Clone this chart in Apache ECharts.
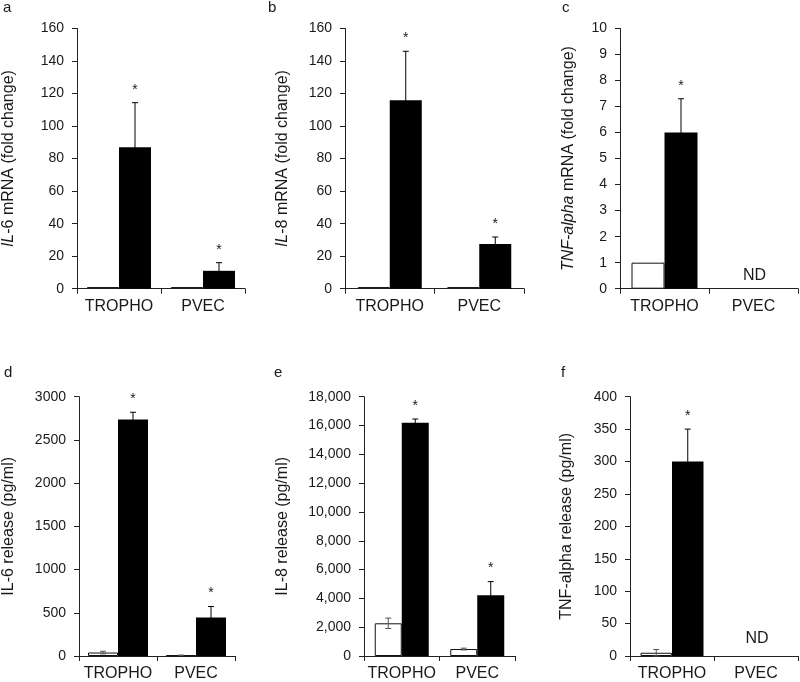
<!DOCTYPE html>
<html><head><meta charset="utf-8">
<script src="https://cdn.jsdelivr.net/npm/echarts@6/dist/echarts.min.js"></script>
<style>html,body{margin:0;padding:0;background:#fff}#c{width:800px;height:682px}</style>
</head><body><div id="c"></div>
<script>
// ---------- DATA ----------
const categories = ['TROPHO', 'PVEC'];

// a: IL-6 mRNA (fold change)
const aCtrl = [1, 1];        const aCtrlErr = [0, 0];
const aTreat = [87, 11];     const aTreatErr = [27.4, 5];
const aStar = [1, 1];
// b: IL-8 mRNA (fold change)
const bCtrl = [1, 1];        const bCtrlErr = [0, 0];
const bTreat = [115.9, 27.5]; const bTreatErr = [30.1, 4.3];
const bStar = [1, 1];
// c: TNF-alpha mRNA (fold change), PVEC not detected
const cCtrl = [1, null];     const cCtrlErr = [0, null];
const cTreat = [6.0, null];  const cTreatErr = [1.3, null];
const cStar = [1, 0];
// d: IL-6 release (pg/ml)
const dCtrl = [40, 8];       const dCtrlErr = [15, 3];
const dTreat = [2735, 446];  const dTreatErr = [85, 127];
const dStar = [1, 1];
// e: IL-8 release (pg/ml)
const eCtrl = [2270, 484];   const eCtrlErr = [360, 60];
const eTreat = [16200, 4220]; const eTreatErr = [250, 945];
const eStar = [1, 1];
// f: TNF-alpha release (pg/ml), PVEC not detected
const fCtrl = [5, null];     const fCtrlErr = [5, null];
const fTreat = [300, null];  const fTreatErr = [50, null];
const fStar = [1, 0];

const yTicksA = {min: 0, max: 160, interval: 20};
const yTicksB = {min: 0, max: 160, interval: 20};
const yTicksC = {min: 0, max: 10, interval: 1};
const yTicksD = {min: 0, max: 3000, interval: 500};
const yTicksE = {min: 0, max: 18000, interval: 2000};
const yTicksF = {min: 0, max: 400, interval: 50};

// ---------- LAYOUT / STYLE ----------
const FONT = 'Liberation Sans, Arial, sans-serif';
const TXT = '#1a1a1a';
const LINE = '#222';
const panels = [
  {id:'a', ctrl:aCtrl, ctrlErr:aCtrlErr, treat:aTreat, treatErr:aTreatErr, star:aStar, ticks:yTicksA,
   name:'{i|IL}-6 mRNA (fold change)', grid:{left:76, top:28.5, width:169, height:260.2}, bw:32, nameGap:60,
   label:{x:3, y:12}},
  {id:'b', ctrl:bCtrl, ctrlErr:bCtrlErr, treat:bTreat, treatErr:bTreatErr, star:bStar, ticks:yTicksB,
   name:'{i|IL}-8 mRNA (fold change)', grid:{left:345, top:28.5, width:179, height:260.2}, bw:32, nameGap:54,
   label:{x:268, y:12}},
  {id:'c', ctrl:cCtrl, ctrlErr:cCtrlErr, treat:cTreat, treatErr:cTreatErr, star:cStar, ticks:yTicksC,
   name:'{i|TNF-alpha} mRNA (fold change)', grid:{left:620, top:28.5, width:178, height:260.2}, bw:33, nameGap:43,
   label:{x:562, y:12}, nd:true, ndOff:13},
  {id:'d', ctrl:dCtrl, ctrlErr:dCtrlErr, treat:dTreat, treatErr:dTreatErr, star:dStar, ticks:yTicksD,
   name:'IL-6 release (pg/ml)', grid:{left:76, top:396.7, width:159, height:260.3}, bw:30, nameGap:62,
   label:{x:4, y:377}},
  {id:'e', ctrl:eCtrl, ctrlErr:eCtrlErr, treat:eTreat, treatErr:eTreatErr, star:eStar, ticks:yTicksE,
   name:'IL-8 release (pg/ml)', grid:{left:364, top:396.7, width:151, height:260.3}, bw:27, nameGap:73,
   label:{x:274, y:377}, thousands:true},
  {id:'f', ctrl:fCtrl, ctrlErr:fCtrlErr, treat:fTreat, treatErr:fTreatErr, star:fStar, ticks:yTicksF,
   name:'TNF-alpha release (pg/ml)', grid:{left:630, top:396.7, width:168, height:261}, bw:31.5, nameGap:55,
   label:{x:561, y:377}, nd:true, ndOff:17}
];

function errRender(bw, isTreat, color) {
  return function (params, api) {
    const cat = api.value(0), v = api.value(1), e = api.value(2), star = api.value(3);
    if (v == null || isNaN(v)) return;
    const c = api.coord([cat, v]);
    const x = c[0] + (isTreat ? bw / 2 : -bw / 2);
    const yT = api.coord([cat, v + e])[1];
    const yB = api.coord([cat, Math.max(0, v - e)])[1];
    const ch = [];
    const ls = {stroke: color, lineWidth: 1};
    if (e > 0) {
      ch.push({type:'line', shape:{x1:x, y1:yT, x2:x, y2:yB}, style:ls});
      ch.push({type:'line', shape:{x1:x-3, y1:yT, x2:x+3, y2:yT}, style:ls});
      ch.push({type:'line', shape:{x1:x-3, y1:yB, x2:x+3, y2:yB}, style:ls});
    }
    if (star) {
      ch.push({type:'text', style:{text:'*', x:x, y:yT - 13, align:'center', verticalAlign:'middle',
        font:'14px ' + FONT, fill:TXT}});
    }
    return {type:'group', children:ch};
  };
}

const grids = [], xAxes = [], yAxes = [], series = [], graphics = [];
panels.forEach((p, i) => {
  grids.push(Object.assign({}, p.grid));
  xAxes.push({
    type:'category', gridIndex:i, data:categories,
    axisLine:{show:true, lineStyle:{color:LINE, width:1}},
    axisTick:{show:true, length:5, lineStyle:{color:LINE}},
    axisLabel:{fontSize:16, color:TXT, fontFamily:FONT, margin:10, interval:0, hideOverlap:false}
  });
  yAxes.push({
    type:'value', gridIndex:i, min:p.ticks.min, max:p.ticks.max, interval:p.ticks.interval,
    axisLine:{show:true, lineStyle:{color:LINE, width:1}},
    axisTick:{show:true, length:5, lineStyle:{color:LINE}},
    splitLine:{show:false},
    axisLabel:{fontSize:14, color:TXT, fontFamily:FONT, margin:13,
      formatter: p.thousands ? (v => v.toLocaleString('en-US')) : (v => String(v))},
    name:p.name, nameLocation:'middle', nameGap:p.nameGap,
    nameTextStyle:{fontSize:16, color:TXT, fontFamily:FONT,
      rich:{i:{fontStyle:'italic', fontSize:16, color:TXT, fontFamily:FONT}}}
  });
  series.push({
    type:'bar', xAxisIndex:i, yAxisIndex:i, barWidth:p.bw, barGap:'0%',
    data:p.ctrl, itemStyle:{color:'#fff', borderColor:'#111', borderWidth:1}, silent:true
  });
  series.push({
    type:'bar', xAxisIndex:i, yAxisIndex:i, barWidth:p.bw, barGap:'0%',
    data:p.treat, itemStyle:{color:'#000'}, silent:true
  });
  series.push({
    type:'custom', xAxisIndex:i, yAxisIndex:i, renderItem:errRender(p.bw, false, '#555'),
    data:p.ctrl.map((v, k) => [k, v == null ? NaN : v, p.ctrlErr[k] || 0, 0]), z:5, silent:true
  });
  series.push({
    type:'custom', xAxisIndex:i, yAxisIndex:i, renderItem:errRender(p.bw, true, '#000'),
    data:p.treat.map((v, k) => [k, v == null ? NaN : v, p.treatErr[k] || 0, p.star[k]]), z:5, silent:true
  });
  if (p.nd) {
    const ndIdx = p.treat.map((v, k) => v == null ? k : -1).filter(k => k >= 0);
    series.push({
      type:'custom', xAxisIndex:i, yAxisIndex:i, silent:true,
      renderItem:(params, api) => {
        const c = api.coord([api.value(0), 0]);
        return {type:'text', style:{text:'ND', x:c[0] + 1, y:c[1] - p.ndOff, align:'center',
          verticalAlign:'middle', font:'16px ' + FONT, fill:TXT}};
      },
      data:ndIdx.map(k => [k])
    });
  }
  graphics.push({type:'text', left:p.label.x, top:p.label.y - 12,
    style:{text:p.id, font:'15px ' + FONT, fill:TXT}});
});

const chart = echarts.init(document.getElementById('c'), null, {renderer:'canvas'});
chart.setOption({
  animation:false, backgroundColor:'#fff',
  grid:grids, xAxis:xAxes, yAxis:yAxes, series:series, graphic:graphics
});
</script></body></html>
